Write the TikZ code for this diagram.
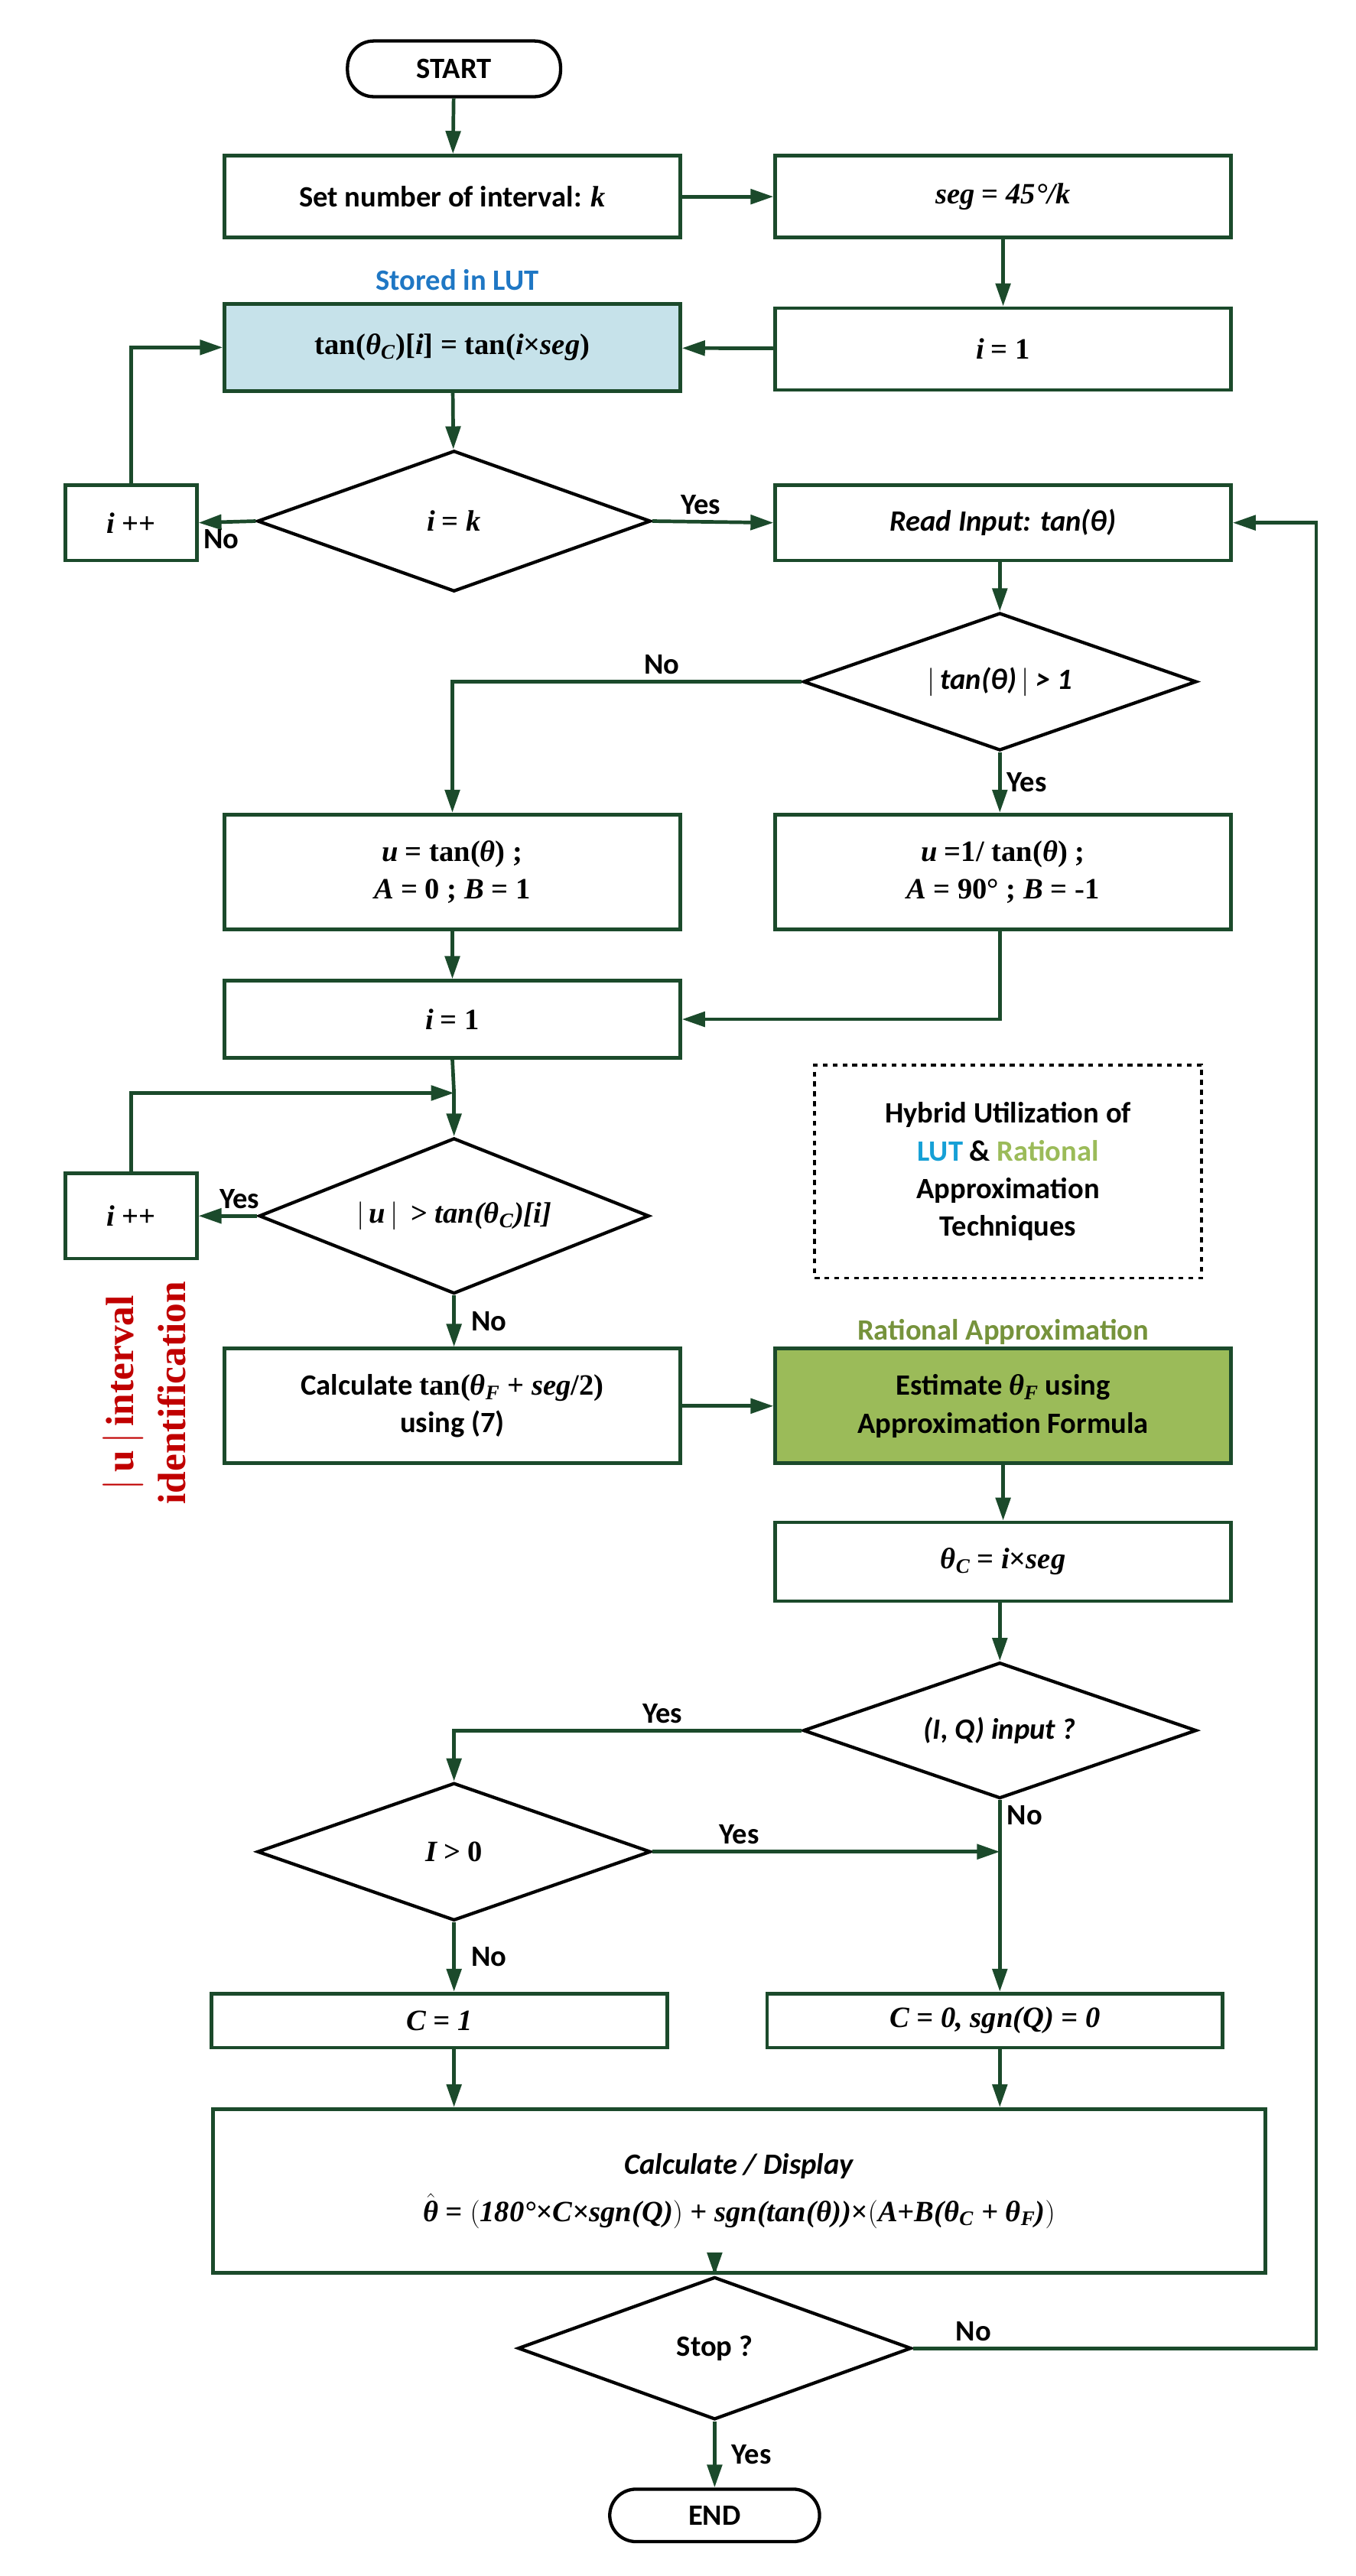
\documentclass[tikz,border=0pt]{standalone}
\usepackage{fontspec}
\setmainfont{Carlito}
\newfontfamily\tms{Liberation Serif}
\usetikzlibrary{shapes.geometric,arrows.meta,calc}
\definecolor{dg}{HTML}{1B4A2B}
\definecolor{lut}{HTML}{C6E2EA}
\definecolor{rat}{HTML}{9BBB59}
\definecolor{ratt}{HTML}{76933C}
\definecolor{blu}{HTML}{1F77C4}
\definecolor{red}{HTML}{C00000}
\newcommand{\mi}[1]{{\tms\bfseries\itshape #1}}
\begin{document}
\begin{tikzpicture}[x=1pt,y=-1pt,
  font=\fontsize{18}{23}\selectfont\bfseries,
  box/.style={draw=dg,line width=2.2pt,minimum width=278pt,align=center,inner sep=2pt},
  sbox/.style={draw=dg,line width=2.2pt,minimum width=80pt,align=center},
  dia/.style={draw=black,line width=2pt,diamond,aspect=2.8,inner sep=0pt,align=center},
  ar/.style={draw=dg,line width=2.2pt,-{Triangle[length=14pt,width=9pt]}},
  ln/.style={draw=dg,line width=2.2pt},
  lab/.style={font=\fontsize{18}{22}\selectfont\bfseries}]
\useasboundingbox (0,0) rectangle (827,1572);
\node[draw=black,line width=2pt,rounded corners=16pt,minimum width=130pt,minimum height=34pt] (start) at (277,42) {START};
\node[box,minimum height=50pt] (set) at (276,120) {Set number of interval: \mi{k}};
\node[box,minimum height=50pt] (seg) at (612,120) {\mi{seg} \tms = \mi{45°/k}};
\node[box,minimum height=50pt] (i1) at (612,213) {\mi{i} \tms = \tms 1};
\node[box,minimum height=53pt,fill=lut] (lut) at (276,212) {\tms tan(\mi{θ\textsubscript{C}})[\mi{i}] = tan(\mi{i}×\mi{seg})};
\node[text=blu] (st) at (279,171) {Stored in LUT};
\node[dia,minimum width=240pt,minimum height=86pt] (d1) at (277,318) {\mi{i} \tms = \mi{k}};
\node[sbox,minimum height=46pt] (ipp) at (80,319) {\mi{i} \tms ++};
\node[box,minimum height=46pt] (read) at (612,319) {\textit{Read Input: tan(θ)}};
\node[dia,minimum width=240pt,minimum height=84pt] (d2) at (610,416) {\textit{$|$\,tan(θ)\,$|$ > 1}};
\node[box,minimum height=70pt] (u1) at (276,532) {\mi{u} \tms = tan(\mi{θ}) ;\\ \mi{A} \tms = 0 ; \mi{B} \tms = 1};
\node[box,minimum height=70pt] (u2) at (612,532) {\mi{u} \tms =1/ tan(\mi{θ}) ;\\ \mi{A} \tms = 90° ; \mi{B} \tms = -1};
\node[box,minimum height=47pt] (i2) at (276,622) {\mi{i} \tms = \tms 1};
\coordinate (j1) at (277,667);
\node[dia,minimum width=238pt,minimum height=95pt] (d3) at (277,742) {\mi{$|$\,u\,$|$ \,> tan(θ\textsubscript{C})[i]}};
\node[sbox,minimum height=52pt] (ipp2) at (80,742) {\mi{i} \tms ++};
\node[box,minimum height=70pt] (calc) at (276,858) {Calculate \tms tan(\mi{θ\textsubscript{F}} + \mi{seg}/2)\\ using (7)};
\node[box,minimum height=70pt,fill=rat] (est) at (612,858) {Estimate \mi{θ\textsubscript{F}} using\\ Approximation Formula};
\node[text=ratt] at (612,813) {Rational Approximation};
\node[draw=black,dashed,line width=1.6pt,minimum width=236pt,minimum height=130pt,align=center] (hyb) at (615,715) {Hybrid Utilization of\\ \textcolor{blu!70!cyan}{LUT} \& \textcolor{rat}{Rational}\\ Approximation\\ Techniques};
\node[box,minimum height=48pt] (thc) at (612,953) {\mi{θ\textsubscript{C}} \tms = \mi{i}×\mi{seg}};
\node[dia,minimum width=240pt,minimum height=83pt] (d4) at (610,1056) {\textit{(I, Q) input ?}};
\node[dia,minimum width=240pt,minimum height=84pt] (d5) at (277,1130) {\mi{I} \tms > 0};
\coordinate (j2) at (610,1130);
\node[box,minimum height=33pt] (c1) at (268,1233) {\mi{C = 1}};
\node[box,minimum height=33pt] (c0) at (607,1233) {\mi{C = 0, sgn(Q) = 0}};
\node[box,minimum width=642pt,minimum height=100pt] (disp) at (451,1337) {\textit{Calculate / Display}\\[6pt] \mi{$\hat{\mbox{θ}}$ = $\big($180°×C×sgn(Q)$\big)$ + sgn(tan(θ))×$\big($A+B(θ\textsubscript{C} + θ\textsubscript{F})$\big)$}};
\node[dia,minimum width=240pt,minimum height=87pt] (d6) at (436,1433) {Stop ?};
\node[draw=black,line width=2pt,rounded corners=16pt,minimum width=128pt,minimum height=32pt] (end) at (436,1535) {END};
\node[text=red,rotate=90,font=\fontsize{24}{32}\selectfont\bfseries\tms,align=center] at (88,850) {$|$\,u\,$|$\,interval\\identification};
% connectors
\draw[ar] (start) -- (set);
\draw[ar] (set) -- (seg);
\draw[ar] (seg) -- (i1);
\draw[ar] (i1) -- (lut);
\draw[ar] (lut) -- (d1);
\draw[ar] (d1.west) -- (ipp.east) node[pos=0.6,below,lab]{No};
\draw[ar] (ipp.north) |- (lut.west);
\draw[ar] (d1.east) -- (read.west) node[pos=0.4,above,lab]{Yes};
\draw[ar] (read.south -| d2.north) -- (d2.north);
\draw[ar] (d2.west) -| (u1.north) node[pos=0.2,above,lab]{No};
\draw[ar] (d2.south) -- (d2.south |- u2.north) node[pos=0.5,right,lab]{Yes};
\draw[ar] (u1) -- (i2);
\draw[ar] (u2.south -| d2.south) |- (i2.east);
\draw[ln] (i2.south) -- (j1);
\draw[ar] (j1) -- (d3.north);
\draw[ar] (ipp2.north) |- (j1);
\draw[ar] (d3.west) -- (ipp2.east) node[pos=0.3,above,lab]{Yes};
\draw[ar] (d3.south) -- (d3.south |- calc.north) node[pos=0.5,right,lab,xshift=6pt]{No};
\draw[ar] (calc) -- (est);
\draw[ar] (est) -- (thc);
\draw[ar] (thc.south -| d4.north) -- (d4.north);
\draw[ar] (d4.west) -| (d5.north) node[pos=0.2,above,lab]{Yes};
\draw[ln] (d4.south) -- (j2) node[pos=0.3,right,lab]{No};
\draw[ar] (d5.east) -- (j2) node[pos=0.25,above,lab]{Yes};
\draw[ar] (j2) -- (j2 |- c0.north);
\draw[ar] (d5.south) -- (d5.south |- c1.north) node[pos=0.5,right,lab,xshift=6pt]{No};
\draw[ar] (c1.south -| d5.south) -- (d5.south |- disp.north);
\draw[ar] (j2 |- c0.south) -- (j2 |- disp.north);
\draw[ar] (disp.south -| d6.north) -- (d6.north);
\draw[ar] (d6.south) -- (end.north) node[pos=0.5,right,lab,xshift=6pt]{Yes};
\draw[ar] (d6.east) -- (803,1433) node[pos=0.15,above,lab]{No} -- (803,319) -- (read.east);
\end{tikzpicture}
\end{document}
